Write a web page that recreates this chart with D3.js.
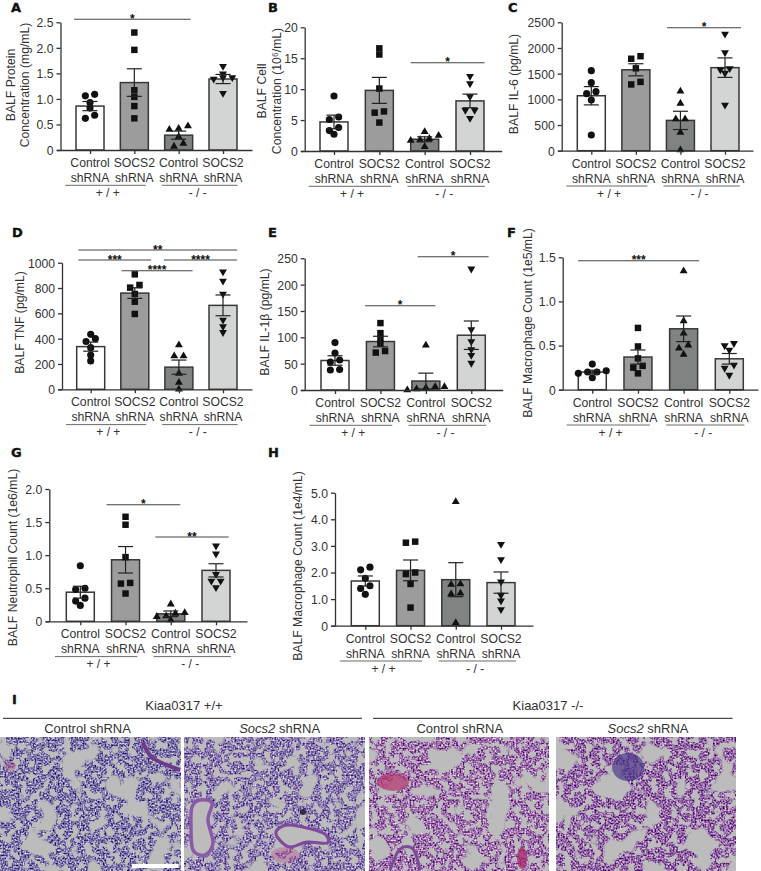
<!DOCTYPE html>
<html><head><meta charset="utf-8">
<style>html,body{margin:0;padding:0;background:#fff}svg{display:block}text{font-family:"Liberation Sans",Arial,sans-serif;fill:#333}</style>
<script src="https://cdn.jsdelivr.net/npm/d3@7/dist/d3.min.js"></script>
</head><body><svg id="c" width="761" height="871"></svg>
<script>
// ---- data ----
const categories = ["Control shRNA","SOCS2 shRNA","Control shRNA","SOCS2 shRNA"];
const genotypes = ["+ / +","- / -"];
const fills = ["#ffffff","#9c9c9c","#7f8381","#d2d5d4"];
const symbols = ["circle","square","up","down"];

const aPts=[[1.09,1.06,.93,.82,.68,.62],[2.30,1.96,1.17,1.04,.86,.62],[.47,.42,.40,.26,.13,.07],[1.64,1.49,1.42,1.42,1.39,1.11]];
const aMean=[.86,1.32,.29,1.39], aSem=[.09,.27,.08,.09];
const bPts=[[8.9,5.5,5.1,3.8,3.3,2.7],[16.6,15.6,10.1,6.4,6.2,4.6],[3.1,2.5,2.0,1.8,1.7,.7],[12.1,10.9,8.8,6.6,6.6,5.3]];
const bMean=[4.7,9.8,1.9,8.1], bSem=[1.1,2.1,.4,1.1];
const cPts=[[1558,1325,1150,1110,987,305],[1840,1790,1604,1340,1290],[1156,922,617,617,357,13],[2273,1909,1600,1575,1510,890]];
const cMean=[1070,1575,590,1617], cSem=[178,118,178,190];
const dPts=[[434,400,378,329,271,224],[908,824,803,753,692,595],[350,263,263,126,53,0],[929,855,753,547,495,450]];
const dMean=[337,760,175,663], dSem=[36,42,56,82];
const ePts=[[90,70,57,53,39,38],[127,108,97,88,74,71],[85,6,6,4,2,0],[230,115,92,77,66,51]];
const eMean=[56,92,17,104], eSem=[9,10,15,27];
const fPts=[[.29,.215,.2,.2,.185,.135],[.70,.49,.355,.27,.25,.185],[1.345,.78,.64,.505,.47,.40],[.525,.50,.45,.28,.245,.165]];
const fMean=[.2,.37,.69,.35], fSem=[.02,.08,.145,.06];
const gPts=[[.84,.5,.48,.35,.305,.24],[1.58,1.46,.97,.58,.57,.42],[.26,.13,.12,.08,.07,.02],[1.14,1.02,.71,.61,.61,.51]];
const gMean=[.44,.93,.113,.77], gSem=[.09,.2,.043,.1];
const hPts=[[2.2,2.1,1.78,1.5,1.4,1.18],[3.16,3.12,2.0,1.94,1.57,.68],[4.66,1.57,1.55,1.22,1.19,.11],[3.06,2.49,1.65,1.15,.94,.61]];
const hMean=[1.68,2.08,1.73,1.62], hSem=[.19,.39,.64,.4];

const aTicks=[0,.5,1,1.5,2,2.5], bTicks=[0,5,10,15,20], cTicks=[0,500,1000,1500,2000,2500],
      dTicks=[0,200,400,600,800,1000], eTicks=[0,50,100,150,200,250], fTicks=[0,.5,1,1.5],
      gTicks=[0,.5,1,1.5,2], hTicks=[0,1,2,3,4,5];

// brackets: from category, to category, y value, stars
const aSig=[[-.36,2.27,2.56,"*"]], bSig=[[1.69,3.32,14.28,"*"]], cSig=[[1.70,3.36,2395,"*"]],
      dSig=[[-.28,3.32,1100,"**"],[-.28,1.37,1021,"***"],[1.66,3.32,1021,"****"],[.70,2.31,936,"****"]],
      eSig=[[1.82,3.38,253,"*"],[.66,2.21,160,"*"]], fSig=[[-.31,2.34,1.461,"***"]],
      gSig=[[.58,2.21,1.763,"*"],[1.66,3.28,1.274,"**"]], hSig=[];

const panels=[
 {l:"A",lx:11,ly:12.2,ax:60.5,y0:150,yT:22.3,c0:90,c3:223,end:252,pts:aPts,m:aMean,s:aSem,t:aTicks,sig:aSig,f:d=>d===0?"0":d.toFixed(1),
  yl:[["BALF Protein",14.7],["Concentration (mg/mL)",29.3]],yc:85},
 {l:"B",lx:268,ly:12.2,ax:304.7,y0:151,yT:27.3,c0:334,c3:470,end:501.7,pts:bPts,m:bMean,s:bSem,t:bTicks,sig:bSig,f:d=>d,
  yl:[["BALF Cell",266],["Concentration (10⁶/mL)",281]],yc:91},
 {l:"C",lx:508,ly:12.2,ax:561.7,y0:150.7,yT:22.3,c0:591.3,c3:725,end:753,pts:cPts,m:cMean,s:cSem,t:cTicks,sig:cSig,f:d=>d,
  yl:[["BALF IL-6 (pg/mL)",518]],yc:84},
 {l:"D",lx:12,ly:237,ax:62,y0:389.3,yT:262.7,c0:90.7,c3:223,end:252,pts:dPts,m:dMean,s:dSem,t:dTicks,sig:dSig,f:d=>d,
  yl:[["BALF TNF (pg/mL)",24]],yc:322.5},
 {l:"E",lx:268,ly:237,ax:304.7,y0:390,yT:258.3,c0:335,c3:471.3,end:502.7,pts:ePts,m:eMean,s:eSem,t:eTicks,sig:eSig,f:d=>d,
  yl:[["BALF IL-1β (pg/mL)",269]],yc:322},
 {l:"F",lx:507,ly:237,ax:562.7,y0:389.7,yT:257.3,c0:592.3,c3:729.3,end:758,pts:fPts,m:fMean,s:fSem,t:fTicks,sig:fSig,f:d=>d===0?"0":d.toFixed(1),
  yl:[["BALF Macrophage Count (1e5/mL)",531.7]],yc:323},
 {l:"G",lx:11,ly:457,ax:49.3,y0:621.3,yT:489,c0:80.3,c3:216,end:247,pts:gPts,m:gMean,s:gSem,t:gTicks,sig:gSig,f:d=>d===0?"0":d.toFixed(1),
  yl:[["BALF Neutrophil Count (1e6/mL)",16.7]],yc:557.5},
 {l:"H",lx:268,ly:457,ax:335,y0:625.7,yT:492.7,c0:365.3,c3:501,end:533,pts:hPts,m:hMean,s:hSem,t:hTicks,sig:hSig,f:d=>d===0?"0":d.toFixed(1),
  yl:[["BALF Macrophage Count (1e4/mL)",301.7]],yc:566}
];

const svg=d3.select("#c");
const INK="#333";
const symbolGen={circle:d3.symbol(d3.symbolCircle,40)(),square:d3.symbol(d3.symbolSquare,42)(),
                 up:d3.symbol(d3.symbolTriangle,27)(),down:d3.symbol(d3.symbolTriangle,27)()};

function swarm(vals,y){
  const sorted=[...vals].sort((a,b)=>b-a), bins=[]; let cur=[];
  sorted.forEach((v,i)=>{ if(i&&Math.abs(y(v)-y(sorted[i-1]))>=3.3){bins.push(cur);cur=[];} cur.push(v); });
  bins.push(cur);
  const out=[];
  bins.forEach(b=>b.forEach((v,i)=>out.push({v,off:((b.length-1)/2-i)*9.3})));
  return out;
}

panels.forEach(p=>{
  const g=svg.append("g");
  const x=d3.scaleLinear().domain([0,3]).range([p.c0,p.c3]);
  const y=d3.scaleLinear().domain([0,d3.max(p.t)]).range([p.y0,p.yT]);
  const xFull=d3.scaleLinear().domain([x.invert(p.ax-4),x.invert(p.end)]).range([p.ax-4,p.end]);
  const bw=28;

  g.append("text").text(p.l).attr("x",p.lx).attr("y",p.ly)
   .style("font-family","'DejaVu Sans'").style("font-weight","bold").style("font-size","13px").style("fill","#111")
   .style("stroke","#111").style("stroke-width",".4px");

  // bars
  g.selectAll("rect.b").data(p.m).join("rect").attr("class","b")
   .attr("x",(d,i)=>x(i)-bw/2).attr("width",bw).attr("y",d=>y(d)).attr("height",d=>y(0)-y(d))
   .attr("fill",(d,i)=>fills[i]).attr("stroke","#383838").attr("stroke-width",1.5);

  // points
  p.pts.forEach((vals,i)=>{
    g.selectAll(null).data(swarm(vals,y)).join("path").attr("d",symbolGen[symbols[i]]).attr("fill","#111")
     .attr("transform",d=>`translate(${x(i)+d.off},${y(d.v)})`+(symbols[i]==="down"?" rotate(180)":""));
  });

  // error bars
  p.m.forEach((m,i)=>{
    const s=p.s[i], e=g.append("g").attr("stroke","#222").attr("stroke-width",1.2).attr("fill","none");
    e.append("line").attr("x1",x(i)).attr("x2",x(i)).attr("y1",y(m-s)).attr("y2",y(m+s));
    [m-s,m+s].forEach(v=>e.append("line").attr("x1",x(i)-7.5).attr("x2",x(i)+7.5).attr("y1",y(v)).attr("y2",y(v)));
  });

  // axes
  const ya=g.append("g").attr("transform",`translate(${p.ax},0)`)
   .call(d3.axisLeft(y).tickValues(p.t).tickFormat(p.f).tickSize(4).tickSizeOuter(0).tickPadding(3));
  const xa=g.append("g").attr("transform",`translate(0,${p.y0})`)
   .call(d3.axisBottom(xFull).tickValues([0,1,2,3]).tickFormat("").tickSize(4).tickSizeOuter(0));
  [ya,xa].forEach(a=>{a.selectAll("path,line").attr("stroke",INK).attr("stroke-width",1.3);
    a.selectAll("text").style("font-size","12.2px").attr("fill",INK).style("font-family","'Liberation Sans'");});
  ya.selectAll(".tick text").attr("dy","0.36em");

  // category labels
  categories.forEach((c,i)=>{
    const [a,b]=c.split(" ");
    g.append("text").text(a).attr("x",x(i)).attr("y",p.y0+17).attr("text-anchor","middle").style("font-size","12.2px");
    g.append("text").text(b).attr("x",x(i)).attr("y",p.y0+32).attr("text-anchor","middle").style("font-size","12.2px");
  });
  [[-.56,1.26,.4],[1.62,3.33,2.43]].forEach((r,i)=>{
    g.append("line").attr("x1",x(r[0])).attr("x2",x(r[1])).attr("y1",p.y0+35.3).attr("y2",p.y0+35.3).attr("stroke","#444").attr("stroke-width",.8);
    g.append("text").text(genotypes[i]).attr("x",x(r[2])).attr("y",p.y0+47).attr("text-anchor","middle").style("font-size","12px");
  });

  // y title
  p.yl.forEach(([t,bx])=>{
    g.append("text").text(t).attr("transform",`translate(${bx},${p.yc}) rotate(-90)`).attr("text-anchor","middle").style("font-size","12.2px");
  });

  // significance
  p.sig.forEach(([a,b,v,s])=>{
    g.append("line").attr("x1",x(a)).attr("x2",x(b)).attr("y1",y(v)).attr("y2",y(v)).attr("stroke","#444").attr("stroke-width",1.1);
    g.append("text").text(s).attr("x",x((a+b)/2)).attr("y",y(v)+3.6).attr("text-anchor","middle")
     .style("font-size","12px").style("font-weight","bold").style("fill","#111");
  });
});

// ---- panel I ----
const micro=[
 {x0:0,x1:181,cap:"Control",seed:4,d:[62,50,125],li:[190,182,212]},
 {x0:184.3,x1:365,cap:"Socs2",seed:11,d:[78,58,132],li:[196,182,214]},
 {x0:369.3,x1:548.3,cap:"Control",seed:23,d:[100,45,125],li:[212,180,215]},
 {x0:556.7,x1:735.3,cap:"Socs2",seed:37,d:[85,38,122],li:[205,165,205]}
];
const my0=737.7,my1=871;
const defs=svg.append("defs");
const airways=[
 {i:1,closed:1,c:"#8a5aa8",w:3.5,f:"#bcbcbc",p:[[200,800],[212,803],[208,820],[213,843],[205,855],[193,850],[191,827],[192,807]]},
 {i:1,closed:1,c:"#7f4a9c",w:3,f:"#bcbcbc",p:[[277,830],[290,825],[323,833],[327,843],[307,842],[290,847],[278,838]]},
 {i:0,closed:0,c:"#6e3a8e",w:4,f:"none",p:[[143,742],[153,758],[180,770]]},
 {i:2,closed:0,c:"#7a4a98",w:3,f:"none",p:[[390,870],[400,849],[413,849],[420,870]]}
];
const blobs=[
 {i:2,x:393,y:782,rx:16,ry:9,c:"#b5346e",o:.7},{i:2,x:522,y:858,rx:5,ry:11,c:"#a82a6a",o:.75},
 {i:3,x:628,y:767,rx:16,ry:14,c:"#4b3a8a",o:.7},{i:1,x:303,y:812,rx:3,ry:3,c:"#2a2030",o:.9},
 {i:1,x:285,y:855,rx:14,ry:8,c:"#b75f95",o:.45},{i:0,x:10,y:766,rx:6,ry:5,c:"#a8588f",o:.45}
];
micro.forEach((m,i)=>{
  const f=defs.append("filter").attr("id","mf"+i).attr("filterUnits","userSpaceOnUse")
    .attr("x",m.x0).attr("y",my0).attr("width",m.x1-m.x0).attr("height",my1-my0).attr("color-interpolation-filters","sRGB");
  f.append("feTurbulence").attr("type","fractalNoise").attr("baseFrequency",.035).attr("numOctaves",2).attr("seed",m.seed).attr("result","n");
  f.append("feColorMatrix").attr("in","n").attr("type","matrix")
   .attr("values","0 0 0 0 0  0 0 0 0 0  0 0 0 0 0  -16 0 0 0 10.6").attr("result","m1");
  f.append("feTurbulence").attr("type","fractalNoise").attr("baseFrequency",.14).attr("numOctaves",2).attr("seed",m.seed+5).attr("result","n2");
  f.append("feColorMatrix").attr("in","n2").attr("type","matrix")
   .attr("values","0 0 0 0 0  0 0 0 0 0  0 0 0 0 0  -16 0 0 0 9.6").attr("result","m2");
  f.append("feComposite").attr("in","m1").attr("in2","m2").attr("operator","in").attr("result","mask");
  f.append("feTurbulence").attr("type","fractalNoise").attr("baseFrequency",.6).attr("numOctaves",1).attr("seed",m.seed+1).attr("result","fine");
  const row=k=>{const a=(m.li[k]-m.d[k])/255*3.2, b=m.d[k]/255+(m.li[k]-m.d[k])/255*(.5-1.6);return `${a.toFixed(3)} 0 0 0 ${b.toFixed(3)}`;};
  f.append("feColorMatrix").attr("in","fine").attr("type","matrix")
   .attr("values",`${row(0)}  ${row(1)}  ${row(2)}  0 0 0 0 1`).attr("result","col");
  f.append("feComposite").attr("in","col").attr("in2","mask").attr("operator","in").attr("result","t");
  f.append("feFlood").attr("flood-color","#bcbcbc").attr("result","bg");
  const mg=f.append("feMerge").attr("result","all"); mg.append("feMergeNode").attr("in","bg"); mg.append("feMergeNode").attr("in","t");
  f.append("feGaussianBlur").attr("in","all").attr("stdDeviation",.45);
  defs.append("clipPath").attr("id","mc"+i).append("rect").attr("x",m.x0).attr("y",my0).attr("width",m.x1-m.x0).attr("height",my1-my0);

  svg.append("rect").attr("x",m.x0).attr("y",my0).attr("width",m.x1-m.x0).attr("height",my1-my0).attr("fill","#bcbcbc").attr("filter",`url(#mf${i})`);
  const cg=svg.append("g").attr("clip-path",`url(#mc${i})`);
  blobs.filter(b=>b.i===i).forEach(b=>cg.append("ellipse").attr("cx",b.x).attr("cy",b.y).attr("rx",b.rx).attr("ry",b.ry).attr("fill",b.c).attr("opacity",b.o));
  airways.filter(a=>a.i===i).forEach(a=>{
    const ln=d3.line().curve(a.closed?d3.curveCardinalClosed:d3.curveCardinal);
    cg.append("path").attr("d",ln(a.p)).attr("fill",a.f).attr("stroke",a.c).attr("stroke-width",a.w);
  });
  const t=svg.append("text").attr("x",(m.x0+m.x1)/2-(i===0?3:i===3?-2:i===2?-1:-5)).attr("y",732.7).attr("text-anchor","middle").style("font-size","13px");
  if(m.cap==="Socs2"){t.append("tspan").text("Socs2").style("font-style","italic");t.append("tspan").text(" shRNA");}
  else t.text("Control shRNA");
});
svg.append("rect").attr("x",132).attr("y",864).attr("width",46.7).attr("height",4).attr("fill","#fff");
[["Kiaa0317 +/+",184,3,362],["Kiaa0317 -/-",548,373,732.7]].forEach(([t,cx,a,b])=>{
  svg.append("text").text(t).attr("x",cx).attr("y",710).attr("text-anchor","middle").style("font-size","13px");
  svg.append("line").attr("x1",a).attr("x2",b).attr("y1",718.3).attr("y2",718.3).attr("stroke","#222").attr("stroke-width",1);
});
svg.append("text").text("I").attr("x",12).attr("y",704).style("font-family","'DejaVu Sans'").style("font-weight","bold").style("font-size","13px").style("fill","#111").style("stroke","#111").style("stroke-width",".4px");
</script></body></html>
